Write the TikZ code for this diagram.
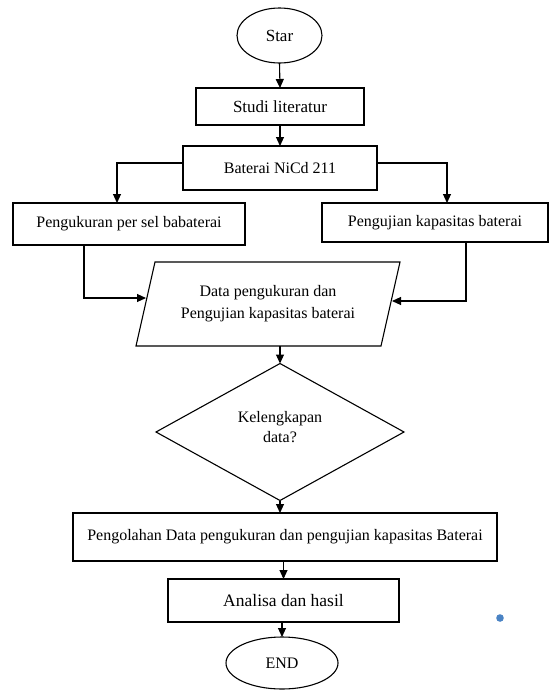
\documentclass[tikz,border=0pt]{standalone}
\usepackage{fontspec}
\setmainfont{Liberation Serif}
\usetikzlibrary{arrows.meta,shapes.geometric,calc}
\begin{document}
\begin{tikzpicture}[x=1pt,y=-1pt,
  every node/.style={inner sep=0pt, outer sep=0pt},
  txt/.style={font=\fontsize{16}{20}\selectfont, align=center},
  boxn/.style={draw, line width=1.1pt, txt},
  ovaln/.style={draw, line width=1.1pt, ellipse, txt},
  arr/.style={line width=1.1pt, -{Triangle[length=9pt,width=8pt]}},
  ln/.style={line width=1.1pt}]
\useasboundingbox (0,0) rectangle (550,691);
% nodes
\node[ovaln, minimum width=85pt, minimum height=55pt, font=\fontsize{17}{20}\selectfont] (star) at (279.5,35.5) {Star};
\node[boxn, minimum width=168pt, minimum height=37pt, font=\fontsize{17}{20}\selectfont] (studi) at (280,106.5) {Studi literatur};
\node[boxn, minimum width=194pt, minimum height=44pt] (bat) at (280,168) {Baterai NiCd 211};
\node[boxn, minimum width=232pt, minimum height=42pt] (peng) at (129,224) {Pengukuran per sel babaterai};
\node[boxn, minimum width=226pt, minimum height=39pt] (uji) at (435,222.5) {Pengujian kapasitas baterai};
\draw[ln] (136,346) -- (155,262) -- (400,262) -- (381,346) -- cycle;
\node[txt, font=\fontsize{16}{22}\selectfont, minimum width=264pt, minimum height=84pt] (data) at (268,304) {Data pengukuran dan\\Pengujian kapasitas baterai};
\node[draw, diamond, line width=1.1pt, txt, minimum width=248pt, minimum height=137pt] (dia) at (280,432) {};
\node[txt] (diat) at (280,427) {Kelengkapan\\data?};
\node[boxn, minimum width=424pt, minimum height=48pt] (olah) at (285,537) {Pengolahan Data pengukuran dan pengujian kapasitas Baterai};
\node[boxn, minimum width=231pt, minimum height=43pt, font=\fontsize{17.5}{20}\selectfont] (anal) at (283.5,600.5) {Analisa dan hasil};
\node[ovaln, minimum width=112pt, minimum height=52pt] (end) at (282,663) {END};
\fill[fill={rgb,255:red,74;green,131;blue,196}] (500,618) circle (3.8pt);
% coordinates on slanted sides
\coordinate (dl) at (146,298);
\coordinate (dr) at (392,301);
% connectors
\draw[arr] (star.south) -- (studi.north);
\draw[arr] (studi.south) -- (bat.north);
\draw[arr] ([yshift=5pt]bat.west) -| ([xshift=-12pt]peng.north);
\draw[arr] ([yshift=5pt]bat.east) -| ([xshift=12pt]uji.north);
\draw[arr] ([xshift=-45pt]peng.south) |- (dl);
\draw[arr] ([xshift=31pt]uji.south) |- (dr);
\draw[arr] ([xshift=12pt]data.south) -- (dia.north);
\draw[arr] (dia.south) -- (dia.south |- olah.north);
\draw[arr] (anal.north |- olah.south) -- (anal.north);
\draw[arr] (end.north |- anal.south) -- (end.north);
\end{tikzpicture}
\end{document}
